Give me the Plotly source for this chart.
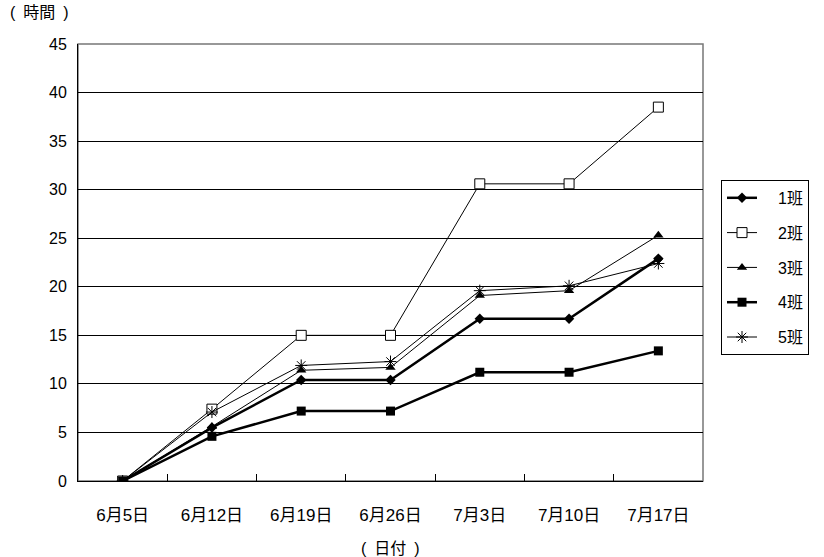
import plotly.graph_objects as go

dates = ["6月5日", "6月12日", "6月19日", "6月26日", "7月3日", "7月10日", "7月17日"]
class1 = [0, 5.5, 10.4, 10.4, 16.7, 16.7, 22.9]
class2 = [0, 7.4, 15.0, 15.0, 30.6, 30.6, 38.5]
class3 = [0, 5.6, 11.4, 11.7, 19.1, 19.6, 25.3]
class4 = [0, 4.6, 7.2, 7.2, 11.2, 11.2, 13.4]
class5 = [0, 7.1, 11.9, 12.3, 19.6, 20.1, 22.4]
names = ["1班", "2班", "3班", "4班", "5班"]
y_ticks = [0, 5, 10, 15, 20, 25, 30, 35, 40, 45]

FONT = "Liberation Sans, Arial, Noto Sans CJK JP, sans-serif"

styles = [
    dict(line=dict(color="black", width=2.5), marker=dict(symbol="diamond", size=8, color="black")),
    dict(line=dict(color="black", width=1), marker=dict(symbol="square", size=10, color="white",
                                                         line=dict(color="black", width=1))),
    dict(line=dict(color="black", width=1), marker=dict(symbol="triangle-up", size=9, color="black")),
    dict(line=dict(color="black", width=2.5), marker=dict(symbol="square", size=9, color="black")),
    dict(line=dict(color="black", width=1), marker=dict(symbol="asterisk-open", size=10, color="black",
                                                         line=dict(color="black", width=1))),
]

fig = go.Figure()
for i, (nm, vals) in enumerate(zip(names, [class1, class2, class3, class4, class5])):
    fig.add_trace(go.Scatter(x=dates, y=vals, name="\u2002\u2002" + nm, mode="lines+markers",
                             legendgroup=nm, **styles[i]))

fig.update_layout(
    width=824, height=557,
    margin=dict(l=78, r=121, t=44, b=76),
    paper_bgcolor="white", plot_bgcolor="white",
    font=dict(family=FONT, size=15, color="black"),
    showlegend=True,
    legend=dict(x=1.0288, xanchor="left", y=0.689, yanchor="top",
                bordercolor="black", borderwidth=1, bgcolor="white",
                font=dict(size=16, family=FONT), tracegroupgap=11,
                itemwidth=30),
    xaxis=dict(type="category", tickson="boundaries", ticks="inside", ticklen=7,
               tickcolor="black", showgrid=False, showline=True, linecolor="black",
               linewidth=1, ticklabelstandoff=19, range=[-0.5, 6.5],
               tickfont=dict(size=17)),
    yaxis=dict(range=[0, 45], tickvals=y_ticks, showgrid=True, gridcolor="black",
               gridwidth=1, showline=True, linecolor="black", linewidth=1,
               ticks="", zeroline=False, ticklabelstandoff=7, tickfont=dict(size=16)),
    shapes=[dict(type="rect", xref="paper", yref="paper", x0=0, x1=1, y0=0, y1=1,
                 line=dict(color="#777777", width=1.5), layer="below")],
    annotations=[
        dict(text="(\u2002時間\u2002)", xref="paper", yref="paper", x=-0.112, y=1.072,
             xanchor="left", yanchor="middle", showarrow=False, font=dict(size=16)),
        dict(text="(\u2002日付\u2002)", xref="paper", yref="paper", x=0.5, y=-0.155,
             xanchor="center", yanchor="middle", showarrow=False, font=dict(size=16)),
    ],
)

fig.write_html("out.html")
